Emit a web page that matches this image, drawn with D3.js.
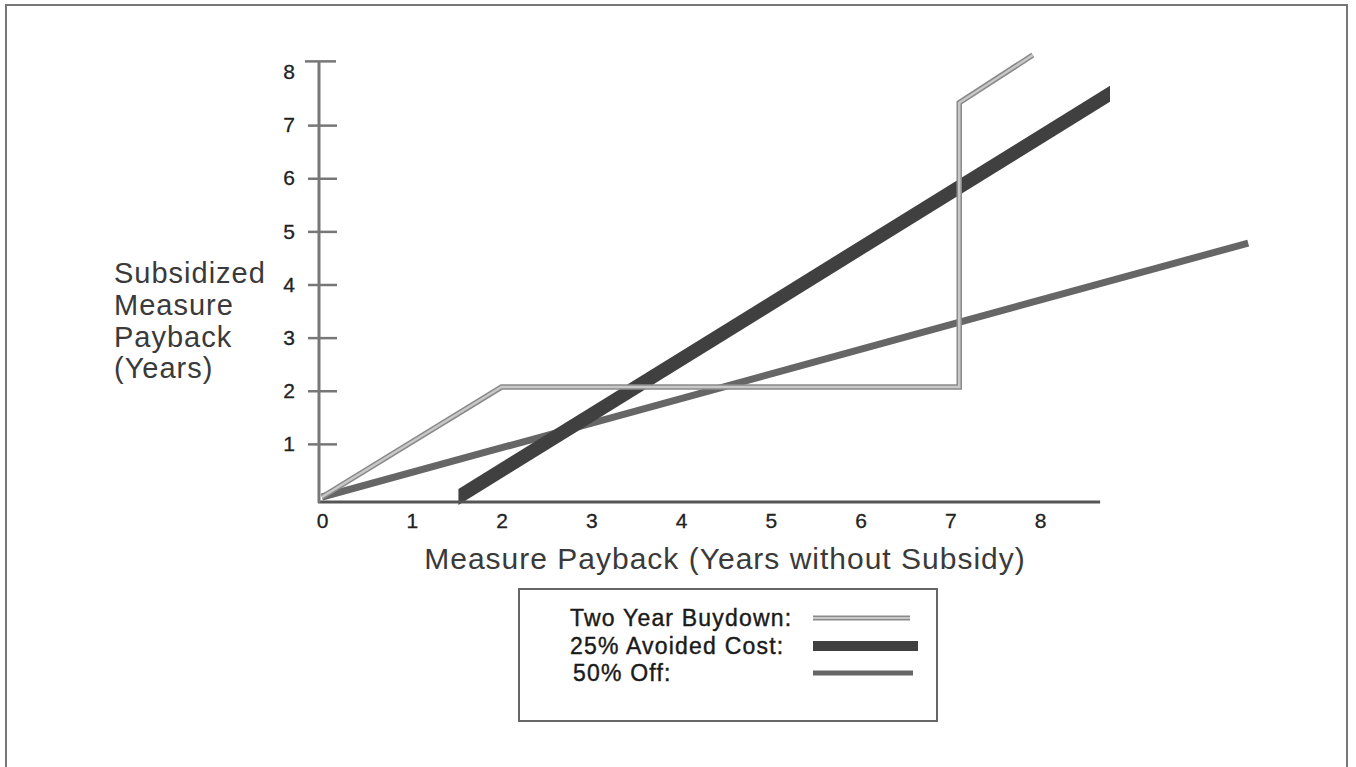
<!DOCTYPE html>
<html>
<head>
<meta charset="utf-8">
<style>
  body { margin: 0; background: #fff; }
  text { font-family: "Liberation Sans", Arial, Helvetica, sans-serif; }
</style>
</head>
<body>
<svg id="cont" width="1356" height="767"></svg>
<script src="https://cdn.jsdelivr.net/npm/d3@7"></script>
<script>
// chart data
var xTicks = [0, 1, 2, 3, 4, 5, 6, 7, 8];
var yTicks = [1, 2, 3, 4, 5, 6, 7, 8];

var buydownX = [0, 2, 7.1, 7.1, 7.92];
var buydownY = [0, 2.07, 2.07, 7.42, 8.32];

var avoidedX = [1.52, 8.78];
var avoidedY = [0, 7.59];

var fiftyX = [0, 10.32];
var fiftyY = [0, 4.78];

var legendNames = ["Two Year Buydown:", "25% Avoided Cost:", "50% Off:"];

var svg = d3.select("#cont");

// page frame
svg.append("rect")
    .attr("x", 6).attr("y", 5)
    .attr("width", 1341).attr("height", 820)
    .attr("fill", "none")
    .attr("stroke", "#777")
    .attr("stroke-width", 2);

var x = d3.scaleLinear().domain([0, 8]).range([322, 1040]);
var y = d3.scaleLinear().domain([0, 8]).range([497, 72]);

var xEnd = 8.67;   // where the x axis line stops
var yTop = 8.2;    // where the y axis line stops

function pts(xs, ys) {
    return xs.map((v, i) => [v, ys[i]]);
}

var line = d3.line().x(d => x(d[0])).y(d => y(d[1]));

// 50% off
svg.append("path")
    .attr("d", line(pts(fiftyX, fiftyY)))
    .attr("fill", "none")
    .attr("stroke", "#666")
    .attr("stroke-width", 7);

// 25% avoided cost - wide band with vertical ends
var band = d3.area()
    .x(d => x(d[0]))
    .y0(d => y(d[1]) + 8)
    .y1(d => y(d[1]) - 8);

svg.append("path")
    .attr("d", band(pts(avoidedX, avoidedY)))
    .attr("fill", "#404040");

// two year buydown
svg.append("path")
    .attr("d", line(pts(buydownX, buydownY)))
    .attr("fill", "none")
    .attr("stroke", "#8a8a8a")
    .attr("stroke-width", 5.5);
svg.append("path")
    .attr("d", line(pts(buydownX, buydownY)))
    .attr("fill", "none")
    .attr("stroke", "#c8c8c8")
    .attr("stroke-width", 2.5);

// x axis
var gx = svg.append("g")
    .attr("transform", "translate(0," + 502 + ")")
    .call(d3.axisBottom(x).tickValues(xTicks).tickSize(0).tickPadding(11));
gx.select(".domain").remove();
gx.append("line")
    .attr("x1", x(0) - 4).attr("x2", x(xEnd))
    .attr("stroke", "#555").attr("stroke-width", 3);
gx.selectAll(".tick text")
    .attr("font-size", 21)
    .attr("fill", "#222")
    .attr("stroke", "#222")
    .attr("stroke-width", 0.3);

// y axis
var gy = svg.append("g")
    .attr("transform", "translate(" + 319 + ",0)")
    .call(d3.axisLeft(y).tickValues(yTicks).tickSize(0).tickPadding(24));
gy.select(".domain").remove();
gy.append("line")
    .attr("y1", 503).attr("y2", y(yTop))
    .attr("stroke", "#777").attr("stroke-width", 3);
gy.append("line")
    .attr("x1", -14).attr("x2", 17)
    .attr("y1", y(yTop)).attr("y2", y(yTop))
    .attr("stroke", "#777").attr("stroke-width", 2.5);
gy.selectAll(".tick")
    .filter(d => d < 8)
    .append("line")
    .attr("x1", -11).attr("x2", 18)
    .attr("stroke", "#777").attr("stroke-width", 2.5);
gy.selectAll(".tick text")
    .attr("font-size", 21)
    .attr("fill", "#222")
    .attr("stroke", "#222")
    .attr("stroke-width", 0.3);

// axis titles
svg.append("text")
    .attr("x", 725).attr("y", 558)
    .attr("dy", "0.35em")
    .attr("text-anchor", "middle")
    .attr("font-size", 30)
    .attr("letter-spacing", 1)
    .attr("fill", "#3a3a3a")
    .text("Measure Payback (Years without Subsidy)");

var yLab = svg.append("text")
    .attr("font-size", 29)
    .attr("letter-spacing", 1)
    .attr("fill", "#3a3a3a");
["Subsidized", "Measure", "Payback", "(Years)"].forEach((t, i) => {
    yLab.append("tspan")
        .attr("x", 114)
        .attr("y", 273 + i * 31.7)
        .attr("dy", "0.35em")
        .text(t);
});

// legend
svg.append("rect")
    .attr("x", 519).attr("y", 589)
    .attr("width", 418).attr("height", 132)
    .attr("fill", "none")
    .attr("stroke", "#666")
    .attr("stroke-width", 2);

var rowY = [618, 646, 673];
var lg = svg.append("g");
lg.selectAll("text")
    .data(legendNames)
    .enter()
    .append("text")
    .attr("x", (d, i) => i == 2 ? 573 : 570)
    .attr("y", (d, i) => rowY[i])
    .attr("dy", "0.35em")
    .attr("font-size", 23)
    .attr("letter-spacing", 1.2)
    .attr("fill", "#1a1a1a")
    .attr("stroke", "#1a1a1a")
    .attr("stroke-width", 0.4)
    .text(d => d);

lg.append("line")
    .attr("x1", 813).attr("x2", 910)
    .attr("y1", rowY[0]).attr("y2", rowY[0])
    .attr("stroke", "#8a8a8a").attr("stroke-width", 5);
lg.append("line")
    .attr("x1", 813).attr("x2", 910)
    .attr("y1", rowY[0]).attr("y2", rowY[0])
    .attr("stroke", "#c8c8c8").attr("stroke-width", 2);
lg.append("line")
    .attr("x1", 813).attr("x2", 918)
    .attr("y1", rowY[1]).attr("y2", rowY[1])
    .attr("stroke", "#404040").attr("stroke-width", 10);
lg.append("line")
    .attr("x1", 813).attr("x2", 913)
    .attr("y1", rowY[2]).attr("y2", rowY[2])
    .attr("stroke", "#666").attr("stroke-width", 5);
</script>
</body>
</html>
